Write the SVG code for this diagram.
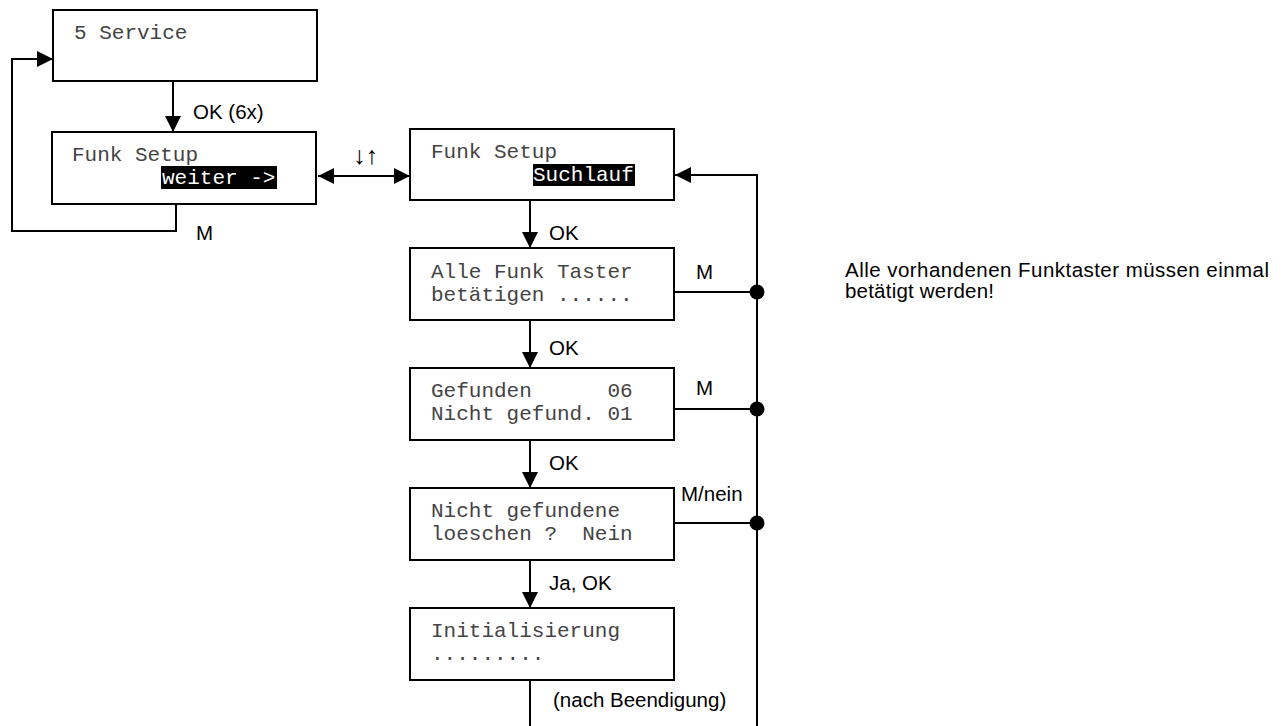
<svg xmlns="http://www.w3.org/2000/svg" width="1283" height="726" viewBox="0 0 1283 726">
<style>
.box{fill:#fff;stroke:#000;stroke-width:2}
.mono{font-family:"Liberation Mono","Courier New",monospace;font-size:21px;fill:#444}
.inv{font-family:"Liberation Mono","Courier New",monospace;font-size:21px;fill:#fff}
.lbl{font-family:"Liberation Sans",Arial,sans-serif;font-size:20.5px;fill:#000}
.ln{fill:none;stroke:#000;stroke-width:2}
.arr{marker-end:url(#ah)}
</style>
<defs>
<marker id="ah" viewBox="0 0 16 16" refX="16" refY="8" markerWidth="16" markerHeight="16" markerUnits="userSpaceOnUse" orient="auto-start-reverse">
<path d="M0,0 L16,8 L0,16 Z" fill="#000"/>
</marker>
</defs>
<g id="connectors">
<line class="ln arr" x1="173" y1="81" x2="173" y2="132"/>
<polyline class="ln arr" points="176,204 176,231 12,231 12,59 53,59"/>
<line class="ln arr" x1="318" y1="176" x2="410" y2="176" style="marker-start:url(#ah)"/>
<polyline class="ln arr" points="757,726 757,175 675,175"/>
<line class="ln arr" x1="530" y1="200" x2="530" y2="248"/>
<line class="ln arr" x1="530" y1="320" x2="530" y2="368"/>
<line class="ln arr" x1="530" y1="440" x2="530" y2="488"/>
<line class="ln arr" x1="530" y1="560" x2="530" y2="608"/>
<line class="ln" x1="530" y1="680" x2="530" y2="726"/>
<line class="ln" x1="674" y1="292" x2="757" y2="292"/>
<line class="ln" x1="674" y1="409" x2="757" y2="409"/>
<line class="ln" x1="674" y1="523" x2="757" y2="523"/>
<circle cx="757" cy="292" r="7.5" fill="#000"/>
<circle cx="757" cy="409" r="7.5" fill="#000"/>
<circle cx="757" cy="523" r="7.5" fill="#000"/>
<text class="lbl" x="193" y="119">OK (6x)</text>
<text class="lbl" x="196" y="240">M</text>
<text class="lbl" x="353" y="164" style="font-size:25px">↓↑</text>
<text class="lbl" x="549" y="240">OK</text>
<text class="lbl" x="696" y="279">M</text>
<text class="lbl" x="549" y="355">OK</text>
<text class="lbl" x="696" y="395">M</text>
<text class="lbl" x="549" y="470">OK</text>
<text class="lbl" x="681" y="501">M/nein</text>
<text class="lbl" x="549" y="590">Ja, OK</text>
<text class="lbl" x="553" y="707">(nach Beendigung)</text>
</g>
<g id="n-service">
<rect class="box" x="53" y="10" width="264" height="71"/>
<text class="mono" x="74" y="39">5 Service</text>
</g>
<g id="n-funk-weiter">
<rect class="box" x="52" y="132" width="264" height="72"/>
<text class="mono" x="72" y="161">Funk Setup</text>
<rect x="161" y="166" width="116" height="23" fill="#000"/>
<text class="inv" x="162" y="184">weiter -&gt;</text>
</g>
<g id="n-funk-such">
<rect class="box" x="410" y="129" width="264" height="71"/>
<text class="mono" x="431" y="158">Funk Setup</text>
<rect x="533" y="164" width="102" height="22" fill="#000"/>
<text class="inv" x="533" y="181">Suchlauf</text>
</g>
<g id="n-alle">
<rect class="box" x="410" y="248" width="264" height="72"/>
<text class="mono" x="431" y="278">Alle Funk Taster</text>
<text class="mono" x="431" y="301">betätigen ......</text>
</g>
<g id="n-gefunden">
<rect class="box" x="410" y="368" width="264" height="72"/>
<text class="mono" x="431" y="397" xml:space="preserve">Gefunden      06</text>
<text class="mono" x="431" y="420">Nicht gefund. 01</text>
</g>
<g id="n-loeschen">
<rect class="box" x="410" y="488" width="264" height="72"/>
<text class="mono" x="431" y="517">Nicht gefundene</text>
<text class="mono" x="431" y="540" xml:space="preserve">loeschen ?  Nein</text>
</g>
<g id="n-init">
<rect class="box" x="410" y="608" width="264" height="72"/>
<text class="mono" x="431" y="637">Initialisierung</text>
<text class="mono" x="431" y="660">.........</text>
</g>
<g id="note">
<text class="lbl" x="845" y="277" textLength="424" lengthAdjust="spacing">Alle vorhandenen Funktaster müssen einmal</text>
<text class="lbl" x="845" y="298" textLength="149" lengthAdjust="spacing">betätigt werden!</text>
</g>
</svg>
